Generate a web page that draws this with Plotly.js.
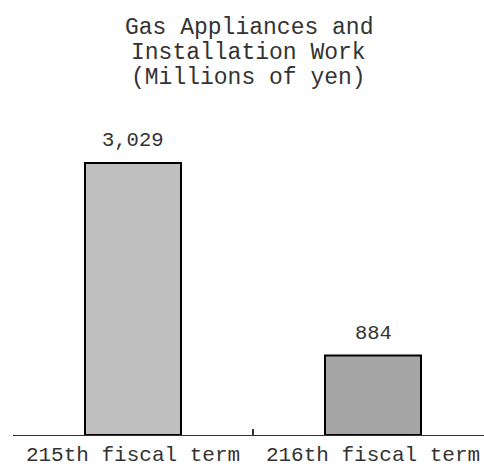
<!DOCTYPE html>
<html>
<head>
<meta charset="utf-8">
<script src="https://cdn.plot.ly/plotly-3.0.1.min.js"></script>
<style>html,body{margin:0;padding:0;background:#fff;}#chart{width:484px;height:466px;}</style>
</head>
<body>
<div id="chart"></div>
<script>
var categories = ["215th fiscal term", "216th fiscal term"];
var values = [3029, 884];
var valueLabels = ["3,029", "884"];
var titleLines = ["Gas Appliances and", "Installation Work", "(Millions of yen)"];
var barColors = ["#c0c0c0", "#a6a6a6"];

var FONT = "'Courier New', 'Liberation Mono', monospace";

var trace = {
  type: "bar",
  x: categories,
  y: values,
  width: 0.4,
  marker: {color: barColors, line: {color: "#000", width: 2}},
  hoverinfo: "skip"
};

var annotations = [];
titleLines.forEach(function (t, i) {
  annotations.push({
    text: t, xref: "paper", yref: "paper", x: 0.5, y: 1, yanchor: "middle",
    yshift: 62 - i * 25, showarrow: false,
    font: {family: FONT, size: 23, color: "#333"}
  });
});
categories.forEach(function (c, i) {
  annotations.push({
    text: valueLabels[i], x: c, y: values[i], xref: "x", yref: "y",
    yanchor: "bottom", yshift: 9, showarrow: false,
    font: {family: FONT, size: 20.5, color: "#333"}
  });
});

var layout = {
  width: 484, height: 466,
  margin: {l: 13, r: 0, t: 90, b: 31},
  paper_bgcolor: "#fff", plot_bgcolor: "#fff",
  showlegend: false,
  xaxis: {
    type: "category",
    range: [-0.5, 1.4625],
    tickson: "boundaries",
    ticks: "inside", ticklen: 6, tickwidth: 1.5, tickcolor: "#333",
    showline: true, linecolor: "#333", linewidth: 1,
    showgrid: false, zeroline: false,
    tickfont: {family: FONT, size: 21, color: "#333"}
  },
  yaxis: {
    range: [0, 3842], visible: false, showgrid: false, zeroline: false
  },
  annotations: annotations
};

Plotly.newPlot("chart", [trace], layout, {staticPlot: true, displayModeBar: false});
</script>
</body>
</html>
